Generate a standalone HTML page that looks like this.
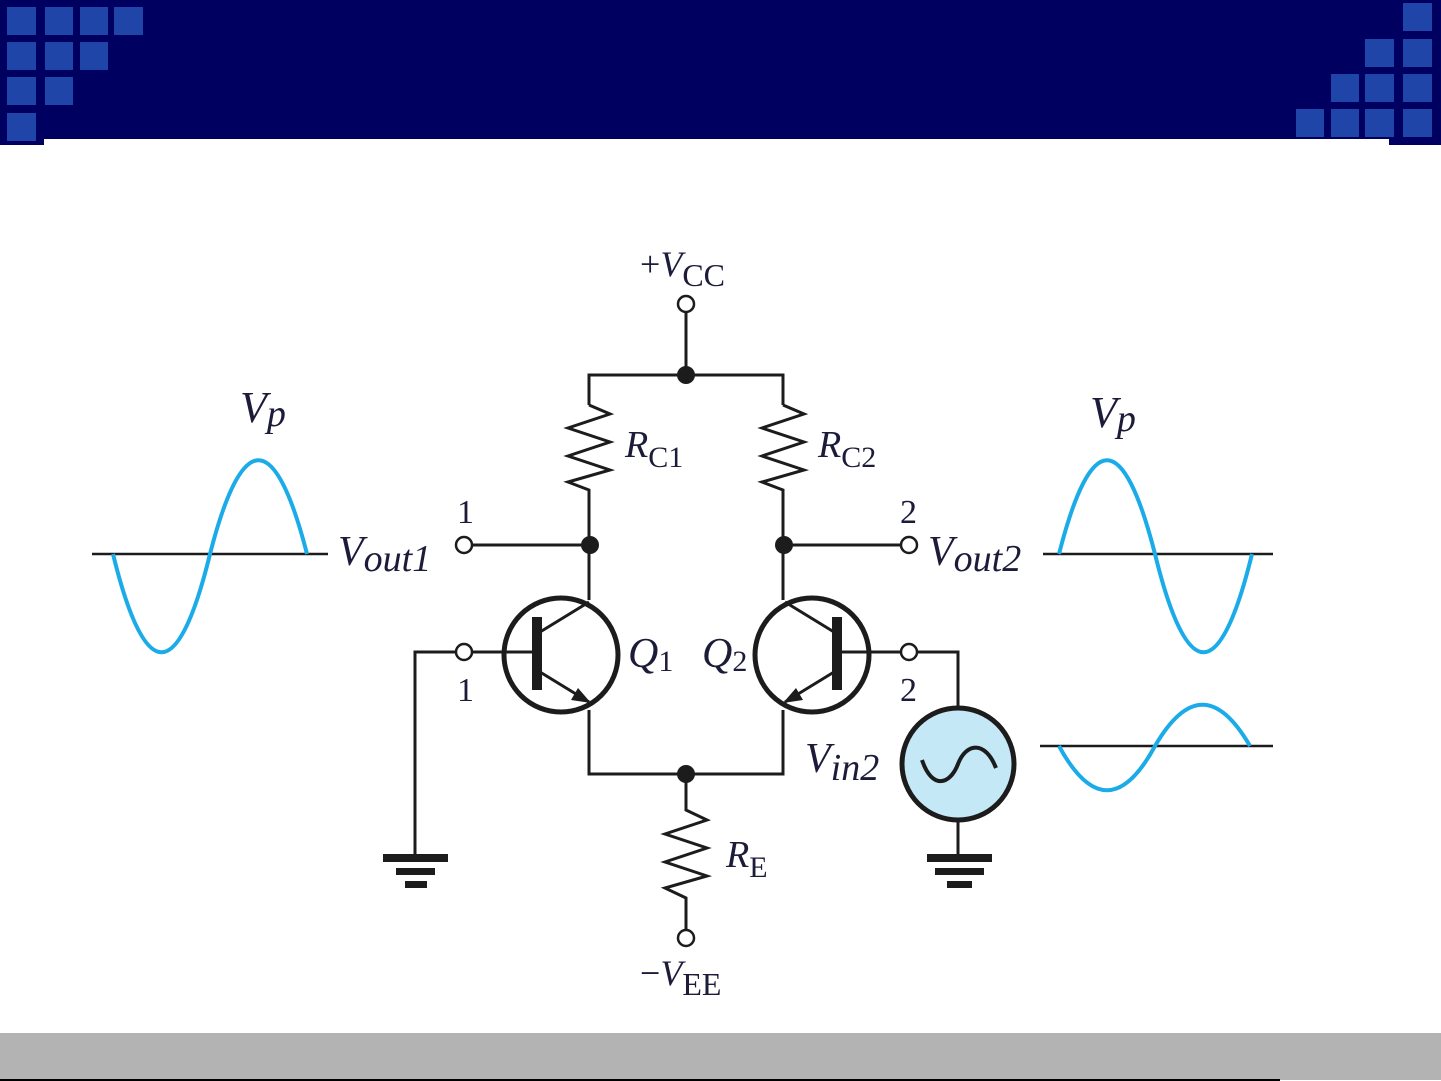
<!DOCTYPE html>
<html><head><meta charset="utf-8"><style>
html,body{margin:0;padding:0;background:#fff;}
body{width:1441px;height:1081px;position:relative;overflow:hidden;}
svg{position:absolute;left:0;top:0;}
text{font-family:"Liberation Serif",serif;fill:#1c1c3a;}
</style></head><body>
<svg width="1441" height="1081" viewBox="0 0 1441 1081">
<rect x="0" y="0" width="1441" height="139" fill="#000060"/>
<rect x="0" y="139" width="44" height="6" fill="#000060"/>
<rect x="1389" y="139" width="52" height="6" fill="#000060"/>
<g fill="#2045a8">
<rect x="7" y="7" width="29" height="28"/><rect x="45" y="7" width="28" height="28"/><rect x="80" y="7" width="28" height="28"/><rect x="114" y="7" width="29" height="28"/>
<rect x="7" y="42" width="29" height="28"/><rect x="45" y="42" width="28" height="28"/><rect x="80" y="42" width="28" height="28"/>
<rect x="7" y="77" width="29" height="28"/><rect x="45" y="77" width="28" height="28"/>
<rect x="7" y="113" width="29" height="28"/>
<rect x="1403" y="3" width="29" height="28"/>
<rect x="1365" y="39" width="29" height="28"/><rect x="1403" y="39" width="29" height="28"/>
<rect x="1331" y="74" width="28" height="28"/><rect x="1365" y="74" width="29" height="28"/><rect x="1403" y="74" width="29" height="28"/>
<rect x="1296" y="109" width="28" height="28"/><rect x="1331" y="109" width="28" height="28"/><rect x="1365" y="109" width="29" height="28"/><rect x="1403" y="109" width="29" height="28"/>
</g>
<rect x="0" y="1033" width="1441" height="47" fill="#b3b3b3"/>
<rect x="0" y="1079" width="1280" height="2" fill="#000"/>

<g stroke="#1c1c1c" stroke-width="2.5">
<line x1="92" y1="554" x2="328" y2="554"/>
<line x1="1043" y1="554" x2="1273" y2="554"/>
<line x1="1040" y1="746" x2="1273" y2="746"/>
</g>
<g fill="none" stroke="#1aabe8" stroke-width="4">
<path d="M113,554 C145,685 178,685 210,554 C242,429 275,429 307,554"/>
<path d="M1059,554 C1091,429 1123,429 1155,554 C1187,685 1220,685 1252,554"/>
<path d="M1059,746 C1091,805 1123,805 1155,746 C1187,691 1218,691 1250,746"/>
</g>

<g fill="none" stroke="#1c1c1c" stroke-width="3">
<line x1="686" y1="312" x2="686" y2="375"/>
<polyline points="589,405 589,375 783,375 783,405"/>
<polyline points="589,405 610,414 568,428 610,442 568,456 610,470 568,482 589,490 589,600"/>
<polyline points="783,405 804,414 762,428 804,442 762,456 804,470 762,482 783,490 783,600"/>
<line x1="472" y1="545" x2="589" y2="545"/>
<line x1="783" y1="545" x2="901" y2="545"/>
<line x1="472" y1="652" x2="537" y2="652"/>
<polyline points="456,652 415,652 415,858"/>
<line x1="837" y1="652" x2="901" y2="652"/>
<polyline points="917,652 958,652 958,708"/>
<line x1="958" y1="822" x2="958" y2="858"/>
<polyline points="589,710 589,774 783,774 783,710"/>
<polyline points="686,774 686,810 707,820 665,834 707,848 665,862 707,876 665,888 686,898 686,930"/>
<line x1="540" y1="632" x2="589" y2="602"/>
<line x1="540" y1="672" x2="589" y2="702"/>
<line x1="834" y1="632" x2="785" y2="602"/>
<line x1="834" y1="672" x2="785" y2="702"/>
</g>
<g fill="none" stroke="#1c1c1c" stroke-width="5">
<circle cx="561" cy="655" r="57"/>
<circle cx="812" cy="655" r="57"/>
</g>
<rect x="532" y="617" width="10" height="73" fill="#1c1c1c"/>
<rect x="832" y="617" width="10" height="73" fill="#1c1c1c"/>
<polygon points="591,703 571,700 578,688" fill="#1c1c1c"/>
<polygon points="783,703 796,688 803,700" fill="#1c1c1c"/>
<circle cx="958" cy="764" r="56" fill="#c5e8f7" stroke="#1c1c1c" stroke-width="5"/>
<path d="M922,760 C932,790 950,785 958,764 C966,743 985,740 996,768" fill="none" stroke="#1c1c1c" stroke-width="4"/>
<g fill="#1c1c1c">
<rect x="383" y="854" width="65" height="8"/><rect x="396" y="868" width="39" height="7"/><rect x="405" y="881" width="22" height="7"/>
<rect x="927" y="854" width="65" height="8"/><rect x="935" y="868" width="49" height="7"/><rect x="947" y="881" width="25" height="7"/>
</g>
<g fill="#1c1c1c">
<circle cx="686" cy="375" r="9"/><circle cx="590" cy="545" r="9"/><circle cx="784" cy="545" r="9"/><circle cx="686" cy="774" r="9"/>
</g>
<g fill="#fff" stroke="#1c1c1c" stroke-width="2.5">
<circle cx="686" cy="304" r="8"/><circle cx="464" cy="545" r="8"/><circle cx="909" cy="545" r="8"/>
<circle cx="464" cy="652" r="8"/><circle cx="909" cy="652" r="8"/><circle cx="686" cy="938" r="8"/>
</g>
<text x="640" y="276" font-size="36">+<tspan font-style="italic">V</tspan><tspan font-size="32" dy="10">CC</tspan></text>
<text x="625" y="457" font-size="38" font-style="italic">R<tspan font-style="normal" font-size="30" dy="10">C1</tspan></text>
<text x="818" y="457" font-size="38" font-style="italic">R<tspan font-style="normal" font-size="30" dy="10">C2</tspan></text>
<text x="726" y="867" font-size="38" font-style="italic">R<tspan font-style="normal" font-size="30" dy="10">E</tspan></text>
<text x="640" y="985" font-size="36">−<tspan font-style="italic">V</tspan><tspan font-size="32" dy="10">EE</tspan></text>
<text x="457" y="523" font-size="34">1</text>
<text x="457" y="701" font-size="34">1</text>
<text x="900" y="523" font-size="34">2</text>
<text x="900" y="701" font-size="34">2</text>
<text x="628" y="667" font-size="42" font-style="italic">Q<tspan font-style="normal" font-size="30" dy="4">1</tspan></text>
<text x="702" y="667" font-size="42" font-style="italic">Q<tspan font-style="normal" font-size="30" dy="4">2</tspan></text>
<text x="338" y="565" font-size="42" font-style="italic">V<tspan font-size="38" dy="6">out1</tspan></text>
<text x="928" y="565" font-size="42" font-style="italic">V<tspan font-size="38" dy="6">out2</tspan></text>
<text x="805" y="772" font-size="42" font-style="italic">V<tspan font-size="38" dy="8">in2</tspan></text>
<text x="240" y="422" font-size="44" font-style="italic">V<tspan font-size="38" dy="4">p</tspan></text>
<text x="1090" y="427" font-size="44" font-style="italic">V<tspan font-size="38" dy="4">p</tspan></text>
</svg>
</body></html>
